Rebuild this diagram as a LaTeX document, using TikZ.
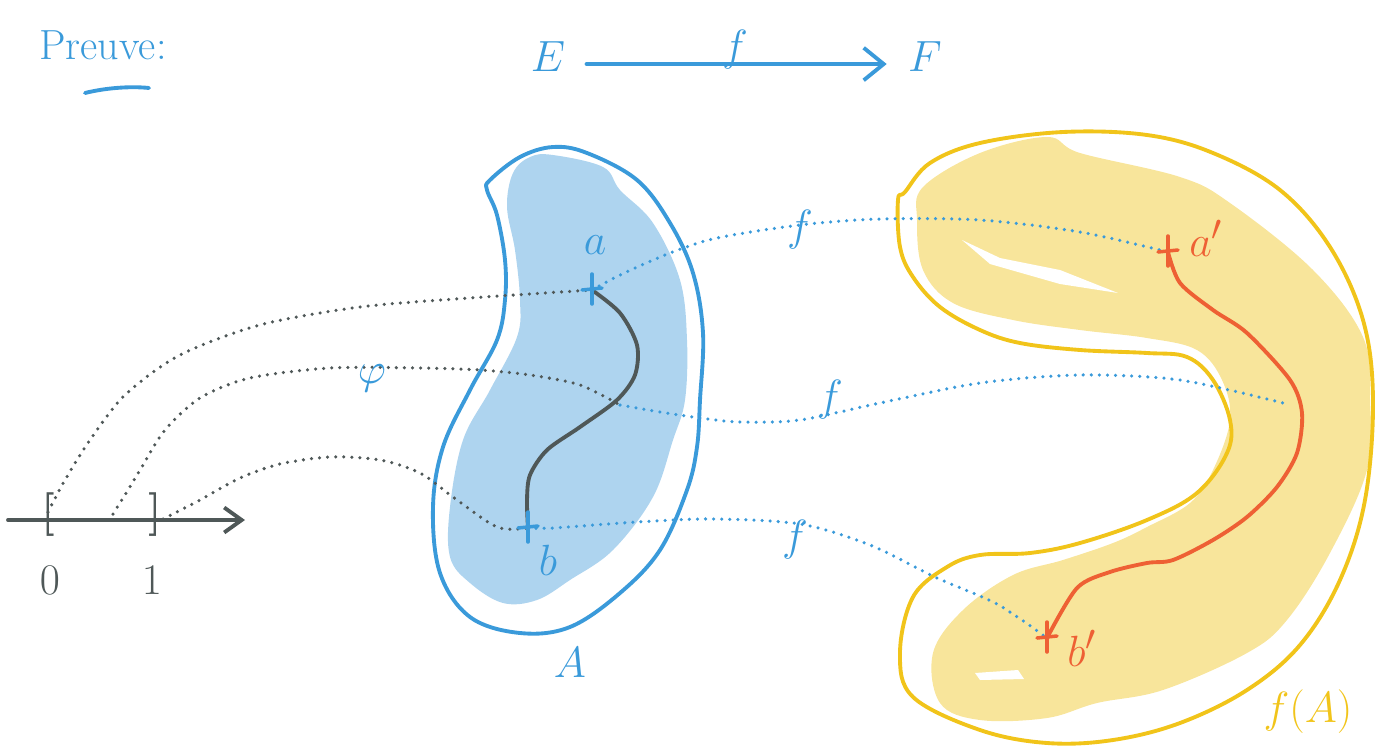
\documentclass[tikz,border=0pt]{standalone}
\usepackage{amsmath}
\usepackage{amssymb}
\usetikzlibrary{arrows.meta}
\definecolor{penblue}{HTML}{3A9ADA}
\definecolor{fillblue}{HTML}{AED4EF}
\definecolor{pengray}{HTML}{4F5858}
\definecolor{penred}{HTML}{EE6034}
\definecolor{penyellow}{HTML}{F1C41A}
\definecolor{fillyellow}{HTML}{F8E59B}

\begin{document}
\begin{tikzpicture}[x=0.02cm,y=-0.02cm,
    pen/.style={line width=2.2pt,line cap=round,line join=round},
    dots/.style={line width=2pt,line cap=round,dash pattern=on 0pt off 4.6pt},
    lbl/.style={inner sep=0pt,font=\fontsize{30}{32}\selectfont},
    biglbl/.style={inner sep=0pt,font=\fontsize{34}{36}\selectfont},
    cross/.style={line width=2pt,line cap=round}]
                \useasboundingbox (0,0) rectangle (1387,751);
                \fill[fillblue] plot[smooth cycle,tension=0.6] coordinates {
                    (513,173) (530,157) (553,155) (603,167) (620,190) (653,223)
                    (680,280) (687,340) (685,400) (673,440) (653,497) (613,550)
                    (570,580) (537,600) (503,603) (470,583) (450,557) (450,507)
                    (463,440) (490,390) (517,337) (520,300) (515,250) (507,207)};
                \draw[pen,penblue] plot[smooth cycle,tension=0.6] coordinates {
                    (490,180) (520,157) (553,147) (587,153) (637,180) (670,223)
                    (693,273) (703,333) (700,400) (697,447) (687,490) (660,550)
                    (620,593) (570,627) (520,633) (470,617) (440,573) (433,507)
                    (443,447) (470,390) (497,340) (505,300) (505,260) (497,215) (487,190)};
                \fill[fillyellow] plot[smooth cycle,tension=0.6] coordinates {
                    (923,187) (980,153) (1047,137) (1080,153) (1180,177) (1230,203)
                    (1313,270) (1363,337) (1370,400) (1367,470) (1330,553) (1287,620)
                    (1247,653) (1163,690) (1097,703) (1047,718) (980,720) (940,703)
                    (933,653) (963,610) (1013,575) (1063,560) (1113,543) (1147,527)
                    (1190,503) (1213,470) (1230,420) (1222,380) (1197,350) (1147,338)
                    (1080,330) (1013,320) (953,303) (923,270) (917,220)};
                \fill[white] (962,240) -- (1000,258) -- (1060,270) -- (1118,293)
                    -- (1060,284) -- (990,264) -- cycle;
                \fill[white] (975,673) -- (1018,670) -- (1024,679) -- (980,680) -- cycle;
                \draw[pen,penyellow] plot[smooth cycle,tension=0.6] coordinates {
                    (905,192) (930,163) (980,143) (1063,132) (1147,135) (1213,153)
                    (1280,190) (1330,247) (1363,320) (1373,400) (1365,500) (1340,580)
                    (1300,645) (1247,690) (1180,723) (1113,740) (1047,743) (980,730)
                    (913,697) (900,653) (913,597) (947,567) (980,555) (1030,553)
                    (1080,543) (1147,520) (1197,493) (1227,453) (1230,420) (1213,380)
                    (1187,357) (1147,353) (1080,350) (1020,343) (980,330) (940,307)
                    (913,277) (900,247) (898,200)};
                \node[lbl,penblue,font=\fontsize{24}{26}\selectfont] (preuve) at (103,45) {Preuve:};
                \draw[pen,penblue] (85,93) .. controls (105,88) and (130,86) .. (149,88);
                \node[biglbl,penblue] (E) at (548,57) {$E$};
                \node[biglbl,penblue] (F) at (925,57) {$F$};
                \draw[pen,penblue,-{Straight Barb[length=4mm,width=6.5mm]}]
                    ([xshift=12pt,yshift=-4pt]E.east) -- ([xshift=-12pt,yshift=-4pt]F.west);
                \node[biglbl,penblue] (fEF) at (735,50) {$f$};
                \coordinate (lstart) at (8,520);
                \coordinate (lend) at (245,520);
                \draw[pen,pengray,-{Straight Barb[length=3.5mm,width=5mm]}] (lstart) -- (lend);
                \node[biglbl,pengray] (lbr) at (48,515) {$\boldsymbol{[}$};
                \node[biglbl,pengray] (rbr) at (155,515) {$\boldsymbol{]}$};
                \node[lbl,pengray] (lzero) at (50,580) {$0$};
                \node[lbl,pengray] (lone) at (152,580) {$1$};
                \coordinate (zero) at (48,512);
                \coordinate (t) at (113,514);
                \coordinate (one) at (163,519);
                \coordinate (a) at (592,290);
                \coordinate (b) at (528,528);
                \coordinate (pt) at (620,405);
                \coordinate (ap) at (1168,252);
                \coordinate (bp) at (1047,638);
                \coordinate (ft) at (1283,403);
                \draw[pen,pengray] plot[smooth] coordinates {
                    (a) (620,313) (637,345) (635,375) (617,400) (580,427)
                    (547,450) (530,475) (527,500) (b)};
                \draw[pen,penred] plot[smooth] coordinates {
                    (ap) (1180,283) (1213,310) (1247,333) (1290,380) (1302,413)
                    (1297,453) (1277,487) (1247,517) (1213,540) (1173,560)
                    (1147,563) (1110,572) (1077,588) (bp)};
                \draw[dots,pengray] plot[smooth] coordinates {
                    (zero) (65,480) (90,440) (125,395) (180,355) (260,325)
                    (360,307) (470,298) (a)};
                \draw[dots,pengray] plot[smooth] coordinates {
                    (t) (128,490) (143,465) (165,430) (200,398) (250,378)
                    (330,368) (420,368) (480,370) (530,375) (580,385) (pt)};
                \draw[dots,pengray] plot[smooth] coordinates {
                    (one) (200,500) (240,478) (280,464) (330,457) (380,460)
                    (420,473) (453,497) (497,527) (b)};
                \draw[dots,penblue] plot[smooth] coordinates {
                    (a) (620,275) (670,253) (717,238) (800,225) (880,219)
                    (980,220) (1080,232) (ap)};
                \draw[dots,penblue] plot[smooth] coordinates {
                    (pt) (660,412) (700,418) (740,422) (800,420) (880,403)
                    (980,383) (1080,375) (1180,380) (ft)};
                \draw[dots,penblue] plot[smooth] coordinates {
                    (b) (553,528) (637,522) (713,519) (800,524) (870,545)
                    (937,578) (997,604) (bp)};
                \foreach \p/\c in {a/penblue,b/penblue,ap/penred,bp/penred}{
                    \draw[cross,\c] (\p) ++(-10,0) -- ++(20,-2);
                    \draw[cross,\c] (\p) ++(0,-16) -- ++(0,30);
                }
                \node[lbl,penblue] (la) at (595,245) {$a$};
                \node[lbl,penblue] (lb) at (548,560) {$b$};
                \node[lbl,penred] (lap) at (1206,238) {$a'$};
                \node[lbl,penred] (lbp) at (1082,648) {$b'$};
                \node[biglbl,penblue] (lA) at (570,663) {$A$};
                \node[lbl,penyellow] (lfA) at (1308,712) {$f(A)$};
                \node[biglbl,penblue] (phi) at (372,378) {$\varphi$};
                \node[biglbl,penblue] (f1) at (800,230) {$f$};
                \node[biglbl,penblue] (f2) at (830,400) {$f$};
                \node[biglbl,penblue] (f3) at (795,540) {$f$};
            \end{tikzpicture}
\end{document}
